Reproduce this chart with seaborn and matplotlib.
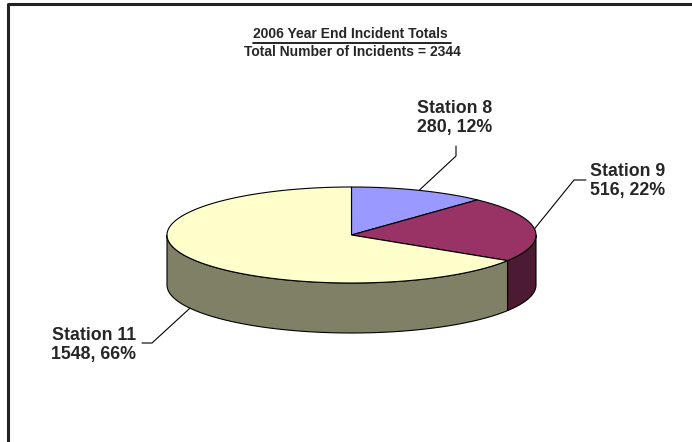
import numpy as np
import matplotlib
matplotlib.use("Agg")
import matplotlib.pyplot as plt
import seaborn as sns

# ---- data ----
stations = ["Station 8", "Station 9", "Station 11"]
incidents = [280, 516, 1548]
top_colors = ["#9999FF", "#993366", "#FFFFCC"]
side_colors = ["#4D4D80", "#4D1A33", "#808066"]
title_line1 = "2006 Year End Incident Totals "
title_line2 = "Total Number of Incidents = 2344"

sns.set_theme(style="white")
plt.rcParams["font.family"] = ["Liberation Sans", "DejaVu Sans"]

W, H = 692, 442
fig = plt.figure(figsize=(W / 100, H / 100), dpi=100)
ax = fig.add_axes([0, 0, 1, 1])
ax.set_xlim(0, W)
ax.set_ylim(H, 0)
ax.axis("off")

# frame (left & top visible)
ax.plot([8, 8, W + 5], [H + 5, 4, 4], color="#222222", lw=2.2, solid_capstyle="butt")

# pie geometry (pixel layout)
cx, cy, a, b, depth = 351.5, 235.0, 184.5, 48.0, 50.0

def pt(theta_deg, dy=0.0):
    t = np.radians(theta_deg)
    return cx + a * np.sin(t), cy - b * np.cos(t) + dy

vals = np.array(incidents, dtype=float)
fracs = vals / vals.sum()
bounds = np.concatenate([[0], np.cumsum(fracs) * 360])

# sides (front half: 90..270 degrees clockwise from top)
for i in range(len(vals)):
    t0, t1 = max(bounds[i], 90), min(bounds[i + 1], 270)
    if t1 <= t0:
        continue
    th = np.linspace(t0, t1, 200)
    xs_top, ys_top = pt(th)
    xs_bot, ys_bot = pt(th[::-1], depth)
    xs = np.concatenate([xs_top, xs_bot])
    ys = np.concatenate([ys_top, ys_bot])
    ax.fill(xs, ys, facecolor=side_colors[i], edgecolor="black", lw=0.8, zorder=2)

# tops
for i in range(len(vals)):
    th = np.linspace(bounds[i], bounds[i + 1], 300)
    xs, ys = pt(th)
    xs = np.concatenate([[cx], xs])
    ys = np.concatenate([[cy], ys])
    ax.fill(xs, ys, facecolor=top_colors[i], edgecolor="black", lw=0.8, zorder=3)

# labels
label_pos = [(455, 118, "center", (456, 146), (456, 156)),
             (590, 181, "left", (586, 180), (574, 180)),
             (136, 345, "right", (142, 343), (152, 343))]
for i, (name, v) in enumerate(zip(stations, incidents)):
    mid = (bounds[i] + bounds[i + 1]) / 2
    front = 90 < mid < 270
    ax_x, ax_y = pt(mid, depth if front else 0.0)
    tx, ty, ha, p1, p2 = label_pos[i]
    ax.plot([p1[0], p2[0], ax_x], [p1[1], p2[1], ax_y], color="black", lw=0.8, zorder=4)
    ax.text(tx, ty, f"{name}\n{v}, {fracs[i]*100:.0f}%", ha=ha, va="center",
            fontsize=12.8, fontweight="bold", linespacing=1.22, zorder=5)

t1 = ax.text(352, 34, title_line1, ha="center", va="center", fontsize=10, fontweight="bold")
ax.text(352, 52, title_line2, ha="center", va="center", fontsize=10, fontweight="bold")

fig.canvas.draw()
bb = t1.get_window_extent().transformed(ax.transData.inverted())
x0, x1 = min(bb.x0, bb.x1), max(bb.x0, bb.x1)
ax.plot([x0, x1], [43, 43], color="black", lw=1.2)

fig.savefig("out.png", dpi=100)
